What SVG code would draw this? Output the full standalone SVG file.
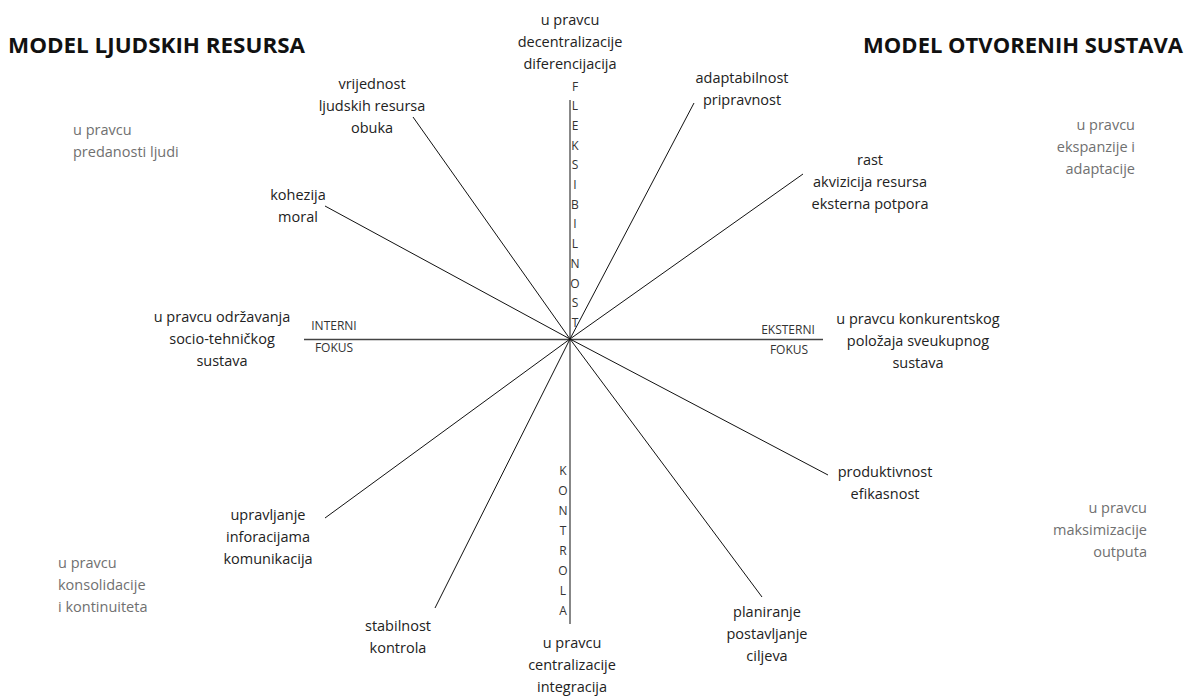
<svg xmlns="http://www.w3.org/2000/svg" width="1186" height="697" viewBox="0 0 1186 697">
<style>
.t{font-family:"Open Sans","Noto Sans","Liberation Sans",sans-serif;font-size:14.5px;fill:#222;text-anchor:middle}
.g{font-family:"Open Sans","Noto Sans","Liberation Sans",sans-serif;font-size:14.5px;fill:#707070}
.gr{text-anchor:end}
.h{font-family:"Open Sans","Noto Sans","Liberation Sans",sans-serif;font-size:22px;font-weight:bold;fill:#111}
.s{font-family:"Open Sans","Noto Sans","Liberation Sans",sans-serif;font-size:12px;fill:#333;text-anchor:middle}
.sp{stroke:#111;stroke-width:1;fill:none}
.ax{stroke:#444;stroke-width:1.5;fill:none}
</style>
<rect width="1186" height="697" fill="#fff"/>
<g id="connectors">
<line class="ax" x1="304" y1="339.5" x2="823" y2="339.5"/>
<line class="sp" x1="570" y1="100" x2="570" y2="624"/>
<line class="sp" x1="570" y1="339" x2="413" y2="117"/>
<line class="sp" x1="570" y1="339" x2="694" y2="103"/>
<line class="sp" x1="570" y1="339" x2="803" y2="174"/>
<line class="sp" x1="570" y1="339" x2="325" y2="206"/>
<line class="sp" x1="570" y1="339" x2="325" y2="518"/>
<line class="sp" x1="570" y1="339" x2="435" y2="608"/>
<line class="sp" x1="570" y1="339" x2="762" y2="597"/>
<line class="sp" x1="570" y1="339" x2="828" y2="475"/>
</g>
<g id="title-left"><text class="h" x="8" y="53" textLength="297" lengthAdjust="spacingAndGlyphs">MODEL LJUDSKIH RESURSA</text></g>
<g id="title-right"><text class="h" x="1183" y="53" text-anchor="end">MODEL OTVORENIH SUSTAVA</text></g>
<g id="q-top-left"><text class="g" x="73"><tspan x="73" y="135">u pravcu</tspan><tspan x="73" y="157">predanosti ljudi</tspan></text></g>
<g id="q-top-right"><text class="g gr"><tspan x="1135" y="130">u pravcu</tspan><tspan x="1135" y="152">ekspanzije i</tspan><tspan x="1135" y="174">adaptacije</tspan></text></g>
<g id="q-bottom-right"><text class="g gr"><tspan x="1147" y="513">u pravcu</tspan><tspan x="1147" y="535">maksimizacije</tspan><tspan x="1147" y="557">outputa</tspan></text></g>
<g id="q-bottom-left"><text class="g"><tspan x="58" y="568">u pravcu</tspan><tspan x="58" y="590">konsolidacije</tspan><tspan x="58" y="612">i kontinuiteta</tspan></text></g>
<g id="n-top"><text class="t"><tspan x="570" y="25">u pravcu</tspan><tspan x="570" y="47">decentralizacije</tspan><tspan x="570" y="69">diferencijacija</tspan></text></g>
<g id="n-adapt"><text class="t"><tspan x="742" y="83">adaptabilnost</tspan><tspan x="742" y="105">pripravnost</tspan></text></g>
<g id="n-vrijednost"><text class="t"><tspan x="372" y="89">vrijednost</tspan><tspan x="372" y="111">ljudskih resursa</tspan><tspan x="372" y="133">obuka</tspan></text></g>
<g id="n-rast"><text class="t"><tspan x="870" y="165">rast</tspan><tspan x="870" y="187">akvizicija resursa</tspan><tspan x="870" y="209">eksterna potpora</tspan></text></g>
<g id="n-kohezija"><text class="t"><tspan x="298" y="200">kohezija</tspan><tspan x="298" y="222">moral</tspan></text></g>
<g id="n-interni"><text class="t"><tspan x="222" y="322">u pravcu održavanja</tspan><tspan x="222" y="344">socio-tehničkog</tspan><tspan x="222" y="366">sustava</tspan></text></g>
<g id="n-eksterni"><text class="t"><tspan x="918" y="324">u pravcu konkurentskog</tspan><tspan x="918" y="346">položaja sveukupnog</tspan><tspan x="918" y="368">sustava</tspan></text></g>
<g id="n-produktivnost"><text class="t"><tspan x="885" y="477">produktivnost</tspan><tspan x="885" y="499">efikasnost</tspan></text></g>
<g id="n-upravljanje"><text class="t"><tspan x="268" y="520">upravljanje</tspan><tspan x="268" y="542">inforacijama</tspan><tspan x="268" y="564">komunikacija</tspan></text></g>
<g id="n-stabilnost"><text class="t"><tspan x="398" y="631">stabilnost</tspan><tspan x="398" y="653">kontrola</tspan></text></g>
<g id="n-planiranje"><text class="t"><tspan x="767" y="617">planiranje</tspan><tspan x="767" y="639">postavljanje</tspan><tspan x="767" y="661">ciljeva</tspan></text></g>
<g id="n-bottom"><text class="t"><tspan x="572" y="648">u pravcu</tspan><tspan x="572" y="670">centralizacije</tspan><tspan x="572" y="692">integracija</tspan></text></g>
<g id="axis-interni"><text class="s"><tspan x="334" y="330">INTERNI</tspan><tspan x="334" y="352">FOKUS</tspan></text></g>
<g id="axis-eksterni"><text class="s"><tspan x="788" y="334">EKSTERNI</tspan><tspan x="789" y="354">FOKUS</tspan></text></g>
<g id="axis-fleksibilnost"><text class="s"><tspan x="575" y="90.5">F</tspan><tspan x="575" y="110.2">L</tspan><tspan x="575" y="129.9">E</tspan><tspan x="575" y="149.6">K</tspan><tspan x="575" y="169.3">S</tspan><tspan x="575" y="189">I</tspan><tspan x="575" y="208.7">B</tspan><tspan x="575" y="228.4">I</tspan><tspan x="575" y="248.1">L</tspan><tspan x="575" y="267.8">N</tspan><tspan x="575" y="287.5">O</tspan><tspan x="575" y="307.2">S</tspan><tspan x="575" y="326.9">T</tspan></text></g>
<g id="axis-kontrola"><text class="s"><tspan x="563" y="474.5">K</tspan><tspan x="563" y="494.6">O</tspan><tspan x="563" y="514.7">N</tspan><tspan x="563" y="534.8">T</tspan><tspan x="563" y="554.9">R</tspan><tspan x="563" y="575">O</tspan><tspan x="563" y="595.1">L</tspan><tspan x="563" y="615.2">A</tspan></text></g>
</svg>
